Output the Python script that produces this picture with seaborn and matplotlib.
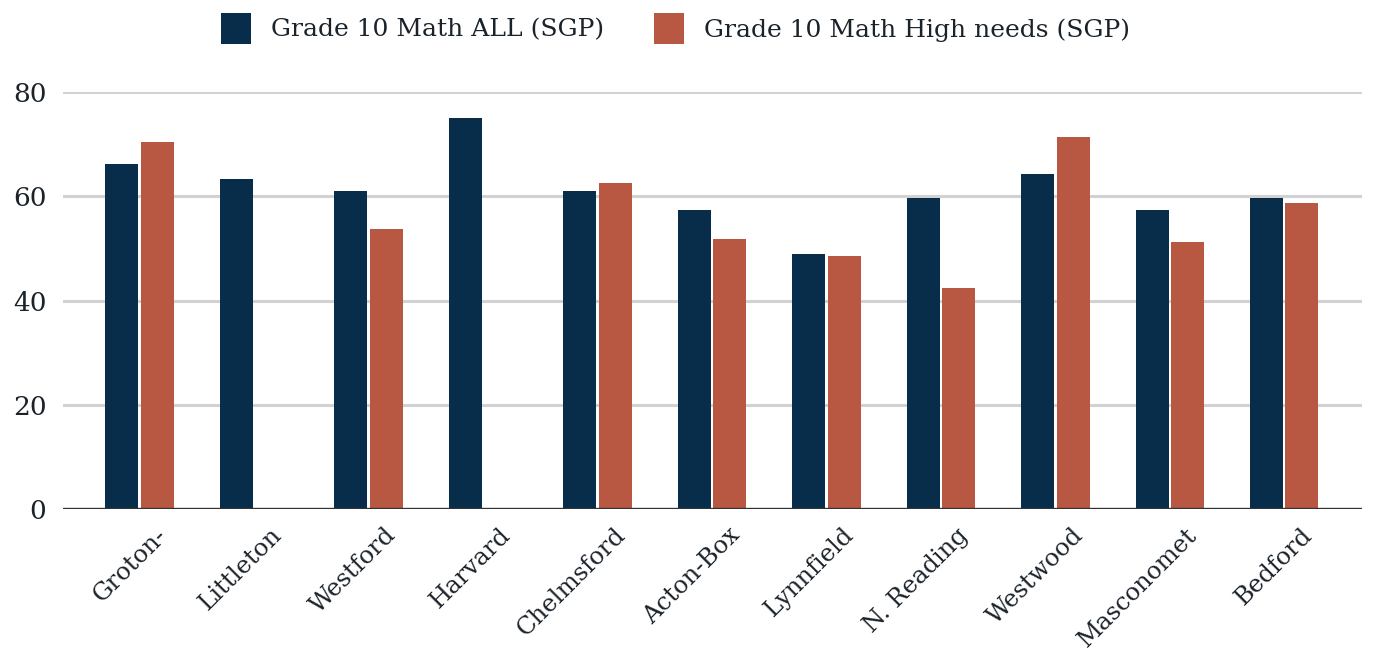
import matplotlib
matplotlib.use("Agg")
import matplotlib.pyplot as plt
import matplotlib.transforms as mtransforms
from matplotlib.patches import Patch
import numpy as np
import pandas as pd
import seaborn as sns

schools = ["Groton-", "Littleton", "Westford", "Harvard", "Chelmsford", "Acton-Box",
           "Lynnfield", "N. Reading", "Westwood", "Masconomet", "Bedford"]
math_all = [66.2, 63.4, 61.1, 75.1, 61.1, 57.4, 49.0, 59.7, 64.3, 57.4, 59.7]
math_high = [70.4, np.nan, 53.7, np.nan, 62.5, 51.8, 48.6, 42.5, 71.4, 51.3, 58.8]
series_names = ["Grade 10 Math ALL (SGP)", "Grade 10 Math High needs (SGP)"]
y_ticks = [0, 20, 40, 60, 80]

colors = ["#082d4a", "#b95842"]
text_color = "#1a222a"

df = pd.DataFrame({
    "School": schools * 2,
    "Series": [series_names[0]] * len(schools) + [series_names[1]] * len(schools),
    "Value": math_all + math_high,
})

sns.set_theme(style="white")
plt.rcParams["font.family"] = ["DejaVu Serif"]

fig = plt.figure(figsize=(13.79, 6.58), dpi=100)
ax = fig.add_axes([0.0457, 0.2264, 0.942, 0.6337])

sns.barplot(data=df, x="School", y="Value", hue="Series", order=schools,
            hue_order=series_names, palette=colors, width=0.62, gap=0.07,
            saturation=1, ax=ax, legend=False, edgecolor="none")

ax.set_xlim(-0.67, 10.68)
ax.set_ylim(0, 80)
ax.set_yticks(y_ticks)
ax.set_yticklabels([str(v) for v in y_ticks], fontsize=19, color=text_color)
ax.tick_params(axis="y", length=0, pad=12)
ax.tick_params(axis="x", length=0, pad=4)
ax.set_xlabel("")
ax.set_ylabel("")
for s in ["top", "right", "left", "bottom"]:
    ax.spines[s].set_visible(False)

ax.yaxis.grid(True, color="#d2d2d2", linewidth=2.2)
ax.set_axisbelow(True)
ax.axhline(0, color="#333333", linewidth=2.4, zorder=5)

ax.set_xticks(range(len(schools)))
ax.set_xticklabels(schools, rotation=45, ha="right", rotation_mode="anchor",
                   fontsize=17.5, color=text_color)
offset = mtransforms.ScaledTranslation(16 / 100, -9 / 100, fig.dpi_scale_trans)
for lbl in ax.get_xticklabels():
    lbl.set_transform(lbl.get_transform() + offset)

handles = [Patch(facecolor=c, edgecolor="none") for c in colors]
fig.legend(handles, series_names, loc="center", bbox_to_anchor=(0.49, 0.957),
           ncol=2, frameon=False, fontsize=18, handlelength=1.2, handleheight=1.5,
           handletextpad=0.8, columnspacing=2.0, labelcolor=text_color)

fig.savefig("out.png", dpi=100, facecolor="white")
